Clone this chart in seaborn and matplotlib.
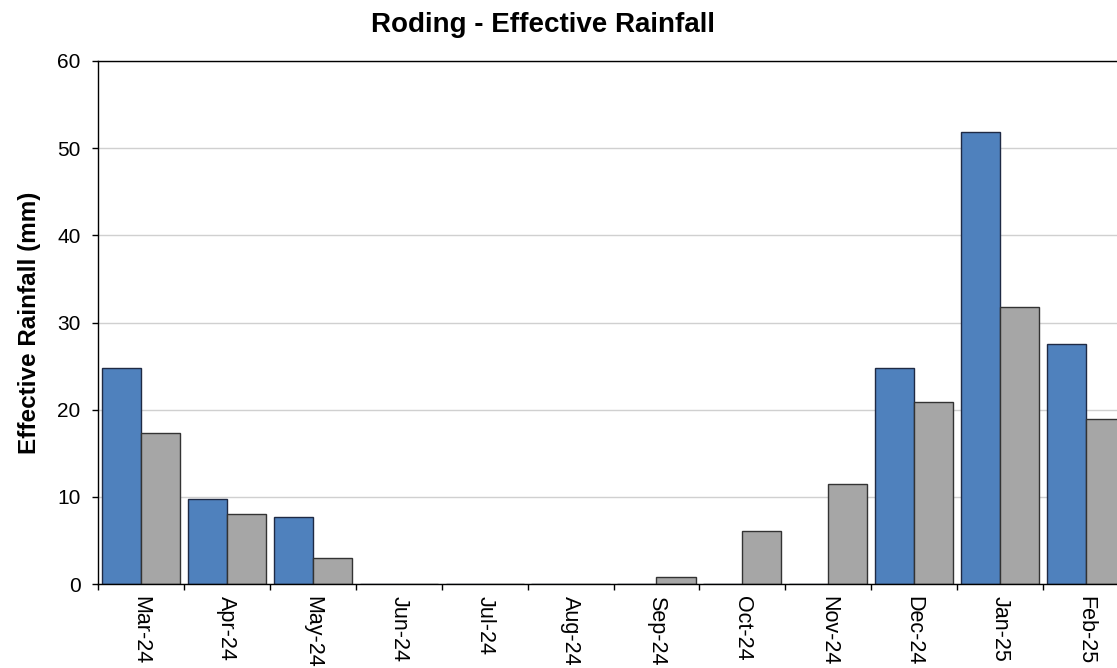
import numpy as np
import pandas as pd
import matplotlib
matplotlib.use("Agg")
import matplotlib.pyplot as plt
from matplotlib.ticker import FixedLocator, NullFormatter
import seaborn as sns

months = ["Mar-24", "Apr-24", "May-24", "Jun-24", "Jul-24", "Aug-24",
          "Sep-24", "Oct-24", "Nov-24", "Dec-24", "Jan-25", "Feb-25"]
actual = [24.8, 9.8, 7.7, 0, 0, 0, 0, 0, 0, 24.8, 51.8, 27.5]
average = [17.3, 8.0, 3.0, 0, 0, 0, 0.8, 6.1, 11.5, 20.9, 31.8, 18.9]
series_names = ["Actual", "Long Term Average"]

df = pd.DataFrame({
    "Month": months * 2,
    "Rainfall": actual + average,
    "Series": [series_names[0]] * len(months) + [series_names[1]] * len(months),
})

sns.set_theme(style="white")
plt.rcParams["font.family"] = ["Liberation Sans", "DejaVu Sans"]
plt.rcParams["text.color"] = "black"
plt.rcParams["axes.labelcolor"] = "black"
plt.rcParams["xtick.color"] = "black"
plt.rcParams["ytick.color"] = "black"

fig = plt.figure(figsize=(11.17, 6.68), dpi=100)
ax = fig.add_axes([98 / 1117, 1 - 584 / 668, (1129 - 98) / 1117, (584 - 61) / 668])

palette = {series_names[0]: "#4F81BD", series_names[1]: "#A6A6A6"}
sns.barplot(data=df, x="Month", y="Rainfall", hue="Series", order=months,
            hue_order=series_names, palette=palette, width=0.91, gap=0,
            saturation=1, legend=False, ax=ax)

for patch, ec in zip(ax.patches, ["#1F2A44"] * len(months) + ["#333333"] * len(months)):
    patch.set_edgecolor(ec)
    patch.set_linewidth(1.0)

ax.set_ylim(0, 60)
ax.set_xlim(-0.5, len(months) - 0.5)
ax.set_yticks(np.arange(0, 61, 10))
ax.yaxis.grid(True, color="#D0D0D0", linewidth=1)
ax.set_axisbelow(True)

ax.set_xticks(range(len(months)))
ax.set_xticklabels(months, rotation=270, fontsize=15.5)
ax.tick_params(axis="x", which="major", length=0, pad=9)
ax.xaxis.set_minor_locator(FixedLocator(np.arange(-0.5, len(months), 1.0)))
ax.xaxis.set_minor_formatter(NullFormatter())
ax.tick_params(axis="x", which="minor", bottom=True, length=4.5, width=1, color="black")
ax.tick_params(axis="y", left=True, length=4.5, width=1, color="black", labelsize=15, pad=8)

for side in ["left", "bottom", "top"]:
    ax.spines[side].set_color("black")
    ax.spines[side].set_linewidth(1)
ax.spines["right"].set_visible(False)

ax.set_xlabel("")
ax.set_ylabel("Effective Rainfall (mm)", fontsize=17.5, fontweight="bold", labelpad=12)
fig.text(0.486, 0.962, "Roding - Effective Rainfall", ha="center", va="center",
         fontsize=20, fontweight="bold")

fig.savefig("out.png", dpi=100)
